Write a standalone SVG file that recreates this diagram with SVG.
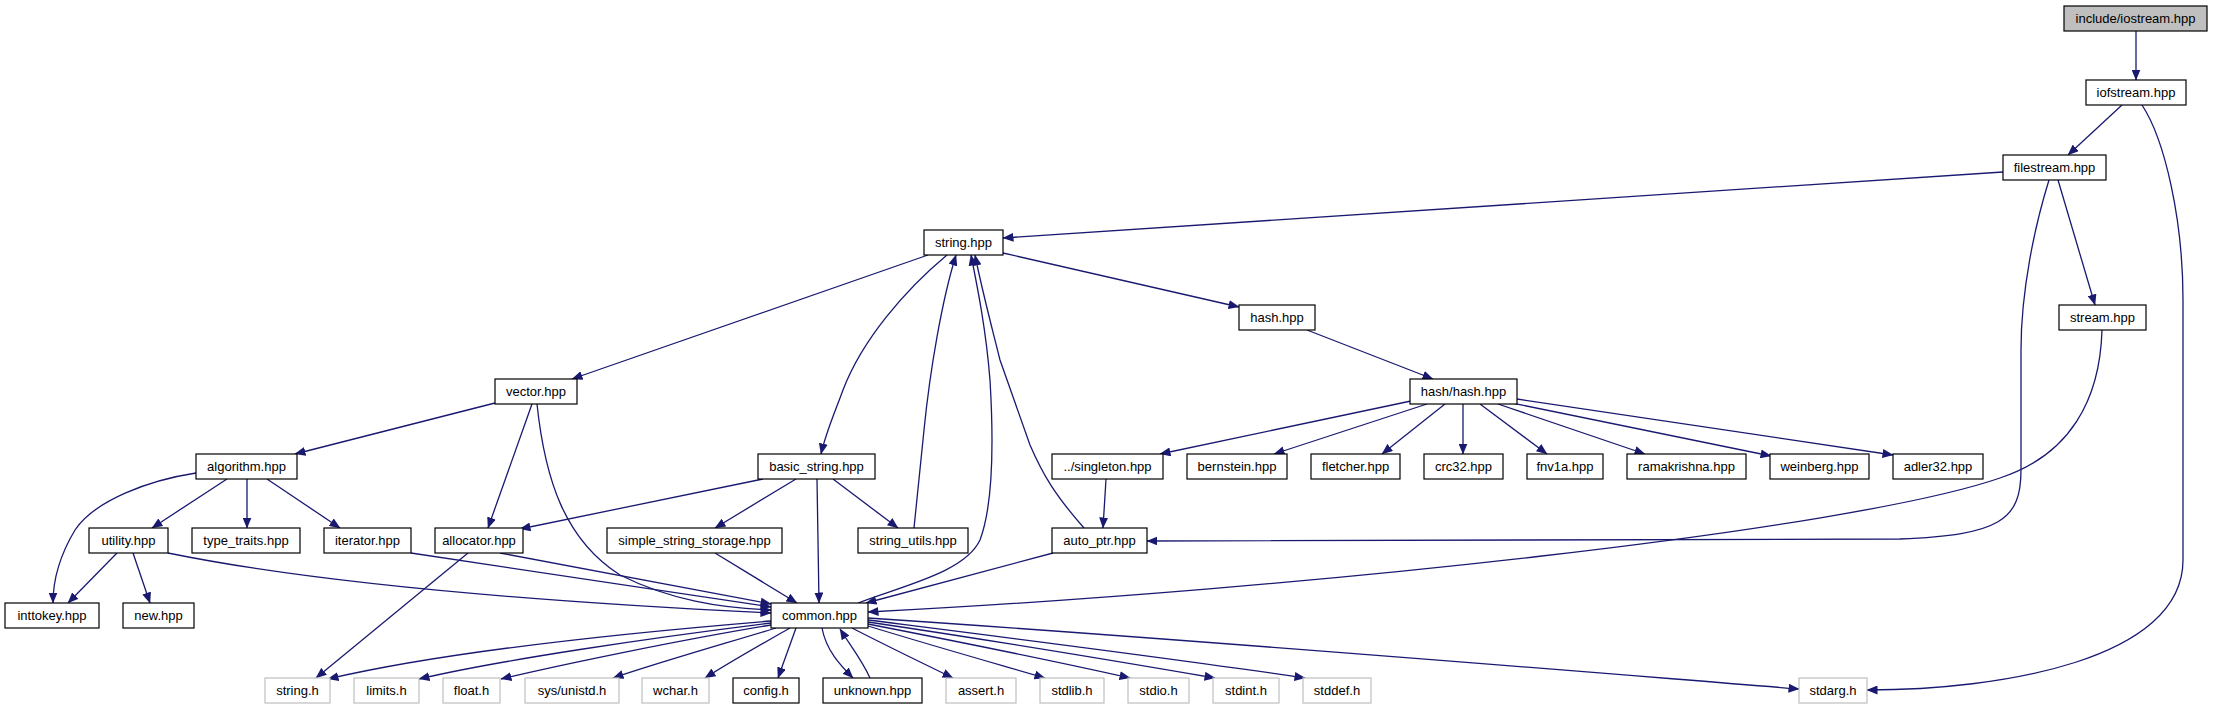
<svg xmlns="http://www.w3.org/2000/svg" width="2213" height="709" viewBox="0 0 2213 709">
<style>
.n rect{fill:#fff;stroke:#000;stroke-width:1.2}
.s rect{fill:#fff;stroke:#bfbfbf;stroke-width:1.2}
.r rect{fill:#bfbfbf;stroke:#000;stroke-width:1.2}
text{font-family:"Liberation Sans",Arial,sans-serif;font-size:13px;fill:#000;text-anchor:middle}
#edges path{fill:none;stroke:#191970;stroke-width:1.3;marker-end:url(#ah)}
</style>
<defs>
<marker id="ah" viewBox="0 0 11 9" refX="10.5" refY="4.5" markerWidth="11" markerHeight="9" markerUnits="userSpaceOnUse" orient="auto"><path d="M0,0 L11,4.5 L0,9 z" fill="#191970"/></marker>
</defs>
<rect width="2213" height="709" fill="#fff"/>
<g id="edges">
<path d="M2136,31 L2136,80"/>
<path d="M2122,105 L2068,155"/>
<path d="M2142,105 C2165,140 2183,220 2183,300 L2183,560 C2183,660 2000,690 1867,690"/>
<path d="M2003,172 L1003,238"/>
<path d="M2058,180 L2095,305"/>
<path d="M2049,180 C2035,225 2021,290 2021,350 L2021,470 C2021,520 2000,535 1900,539 L1147,541"/>
<path d="M928,255 L572,379"/>
<path d="M947,255 C905,290 862,340 843,390 C835,412 826,432 821,454"/>
<path d="M1003,253 L1239,307"/>
<path d="M914,528 L924,430 C930,370 942,300 956,255"/>
<path d="M858,603 C905,585 965,572 980,540 C995,500 993,430 990,380 C986,330 978,290 971,255"/>
<path d="M1084,528 C1055,495 1043,475 1030,445 L1000,360 C990,320 982,290 975,255"/>
<path d="M1307,330 L1433,379"/>
<path d="M1411,401 L1160,454"/>
<path d="M1427,404 L1274,454"/>
<path d="M1445,404 L1382,454"/>
<path d="M1463,404 L1463,454"/>
<path d="M1480,404 L1547,454"/>
<path d="M1498,404 L1645,454"/>
<path d="M1507,402 L1771,456"/>
<path d="M1517,399 L1893,455"/>
<path d="M1106,479 L1103,528"/>
<path d="M1053,553 L866,603"/>
<path d="M2102,330 C2100,400 2070,455 2000,478 C1850,530 1300,590 868,612"/>
<path d="M495,403 L295,454"/>
<path d="M532,404 L488,528"/>
<path d="M537,404 C545,480 565,540 620,575 C670,600 720,608 771,610"/>
<path d="M196,473 C150,480 95,500 75,530 C60,555 53,580 53,603"/>
<path d="M227,479 L152,528"/>
<path d="M247,479 L247,528"/>
<path d="M267,479 L340,528"/>
<path d="M117,553 L68,603"/>
<path d="M133,553 L150,603"/>
<path d="M168,553 C300,580 500,600 771,613"/>
<path d="M411,553 L771,607"/>
<path d="M500,553 L771,604"/>
<path d="M468,553 L316,678"/>
<path d="M763,479 L520,529"/>
<path d="M796,479 L715,528"/>
<path d="M833,479 L898,528"/>
<path d="M817,479 L819,603"/>
<path d="M715,553 L797,603"/>
<path d="M771,621 C600,635 430,655 328,679"/>
<path d="M771,623 C650,638 500,660 419,679"/>
<path d="M771,625 C680,640 560,665 501,679"/>
<path d="M776,628 C720,645 660,662 613,678"/>
<path d="M790,628 C760,645 730,662 705,678"/>
<path d="M796,628 L778,678"/>
<path d="M822,628 C826,650 840,665 853,678"/>
<path d="M870,678 C862,660 850,645 840,629"/>
<path d="M852,628 C885,645 920,662 953,678"/>
<path d="M868,626 C930,645 990,662 1045,678"/>
<path d="M868,624 C960,642 1050,660 1130,678"/>
<path d="M868,622 C990,640 1110,660 1215,678"/>
<path d="M868,620 C1010,638 1170,658 1305,678"/>
<path d="M868,618 C1200,640 1500,665 1799,689"/>
</g>
<g id="n_iostream" class="r"><rect x="2064" y="6" width="143" height="25"/><text x="2135.5" y="23">include/iostream.hpp</text></g>
<g id="n_iofstream" class="n"><rect x="2086" y="80" width="100" height="25"/><text x="2136" y="97">iofstream.hpp</text></g>
<g id="n_filestream" class="n"><rect x="2003" y="155" width="103" height="25"/><text x="2054.5" y="172">filestream.hpp</text></g>
<g id="n_string" class="n"><rect x="924" y="230" width="79" height="25"/><text x="963.5" y="247">string.hpp</text></g>
<g id="n_hash" class="n"><rect x="1239" y="305" width="76" height="25"/><text x="1277" y="322">hash.hpp</text></g>
<g id="n_stream" class="n"><rect x="2059" y="305" width="87" height="25"/><text x="2102.5" y="322">stream.hpp</text></g>
<g id="n_vector" class="n"><rect x="495" y="379" width="82" height="25"/><text x="536" y="396">vector.hpp</text></g>
<g id="n_hashhash" class="n"><rect x="1410" y="379" width="107" height="25"/><text x="1463.5" y="396">hash/hash.hpp</text></g>
<g id="n_algorithm" class="n"><rect x="196" y="454" width="101" height="25"/><text x="246.5" y="471">algorithm.hpp</text></g>
<g id="n_basic_string" class="n"><rect x="758" y="454" width="117" height="25"/><text x="816.5" y="471">basic_string.hpp</text></g>
<g id="n_singleton" class="n"><rect x="1052" y="454" width="111" height="25"/><text x="1107.5" y="471">../singleton.hpp</text></g>
<g id="n_bernstein" class="n"><rect x="1187" y="454" width="100" height="25"/><text x="1237" y="471">bernstein.hpp</text></g>
<g id="n_fletcher" class="n"><rect x="1311" y="454" width="89" height="25"/><text x="1355.5" y="471">fletcher.hpp</text></g>
<g id="n_crc32" class="n"><rect x="1424" y="454" width="79" height="25"/><text x="1463.5" y="471">crc32.hpp</text></g>
<g id="n_fnv1a" class="n"><rect x="1527" y="454" width="76" height="25"/><text x="1565" y="471">fnv1a.hpp</text></g>
<g id="n_ramakrishna" class="n"><rect x="1627" y="454" width="119" height="25"/><text x="1686.5" y="471">ramakrishna.hpp</text></g>
<g id="n_weinberg" class="n"><rect x="1770" y="454" width="99" height="25"/><text x="1819.5" y="471">weinberg.hpp</text></g>
<g id="n_adler32" class="n"><rect x="1893" y="454" width="90" height="25"/><text x="1938" y="471">adler32.hpp</text></g>
<g id="n_utility" class="n"><rect x="89" y="528" width="79" height="25"/><text x="128.5" y="545">utility.hpp</text></g>
<g id="n_type_traits" class="n"><rect x="192" y="528" width="108" height="25"/><text x="246" y="545">type_traits.hpp</text></g>
<g id="n_iterator" class="n"><rect x="324" y="528" width="87" height="25"/><text x="367.5" y="545">iterator.hpp</text></g>
<g id="n_allocator" class="n"><rect x="435" y="528" width="88" height="25"/><text x="479" y="545">allocator.hpp</text></g>
<g id="n_simple" class="n"><rect x="607" y="528" width="175" height="25"/><text x="694.5" y="545">simple_string_storage.hpp</text></g>
<g id="n_string_utils" class="n"><rect x="858" y="528" width="110" height="25"/><text x="913" y="545">string_utils.hpp</text></g>
<g id="n_auto_ptr" class="n"><rect x="1052" y="528" width="95" height="25"/><text x="1099.5" y="545">auto_ptr.hpp</text></g>
<g id="n_inttokey" class="n"><rect x="5" y="603" width="94" height="25"/><text x="52" y="620">inttokey.hpp</text></g>
<g id="n_new" class="n"><rect x="123" y="603" width="71" height="25"/><text x="158.5" y="620">new.hpp</text></g>
<g id="n_common" class="n"><rect x="771" y="603" width="97" height="25"/><text x="819.5" y="620">common.hpp</text></g>
<g id="n_string_h" class="s"><rect x="265" y="678" width="65" height="25"/><text x="297.5" y="695">string.h</text></g>
<g id="n_limits_h" class="s"><rect x="354" y="678" width="65" height="25"/><text x="386.5" y="695">limits.h</text></g>
<g id="n_float_h" class="s"><rect x="443" y="678" width="57" height="25"/><text x="471.5" y="695">float.h</text></g>
<g id="n_unistd_h" class="s"><rect x="525" y="678" width="94" height="25"/><text x="572" y="695">sys/unistd.h</text></g>
<g id="n_wchar_h" class="s"><rect x="642" y="678" width="67" height="25"/><text x="675.5" y="695">wchar.h</text></g>
<g id="n_config_h" class="n"><rect x="733" y="678" width="66" height="25"/><text x="766" y="695">config.h</text></g>
<g id="n_unknown" class="n"><rect x="823" y="678" width="99" height="25"/><text x="872.5" y="695">unknown.hpp</text></g>
<g id="n_assert_h" class="s"><rect x="946" y="678" width="70" height="25"/><text x="981" y="695">assert.h</text></g>
<g id="n_stdlib_h" class="s"><rect x="1040" y="678" width="64" height="25"/><text x="1072" y="695">stdlib.h</text></g>
<g id="n_stdio_h" class="s"><rect x="1128" y="678" width="61" height="25"/><text x="1158.5" y="695">stdio.h</text></g>
<g id="n_stdint_h" class="s"><rect x="1213" y="678" width="66" height="25"/><text x="1246" y="695">stdint.h</text></g>
<g id="n_stddef_h" class="s"><rect x="1303" y="678" width="68" height="25"/><text x="1337" y="695">stddef.h</text></g>
<g id="n_stdarg_h" class="s"><rect x="1799" y="678" width="68" height="25"/><text x="1833" y="695">stdarg.h</text></g>
</svg>
